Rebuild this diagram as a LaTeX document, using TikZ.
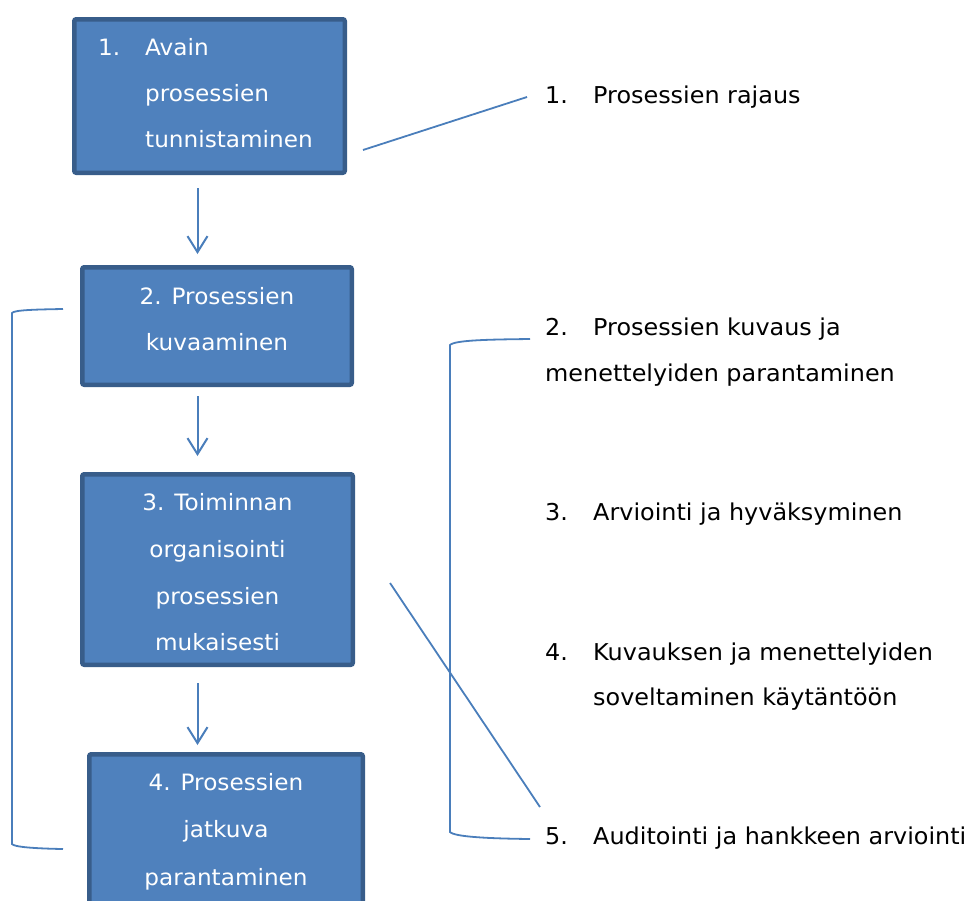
\documentclass[tikz,border=0pt]{standalone}
\usepackage{fontspec}
\setmainfont{DejaVu Sans}[FakeStretch=1.03]
\usetikzlibrary{arrows.meta}
\definecolor{boxfill}{HTML}{4F81BD}
\definecolor{boxline}{HTML}{385D8A}
\definecolor{conn}{HTML}{4A7EBB}
\begin{document}
\begin{tikzpicture}[x=1pt,y=-1pt,
 procbox/.style={draw=boxline, fill=boxfill, line width=4.5pt, rounded corners=2pt, inner sep=0pt, outer sep=0pt},
 boxtext/.style={text=white, font=\fontsize{22.5}{25}\selectfont, inner sep=0pt, anchor=base},
 boxtextl/.style={boxtext, anchor=base west},
 sidetext/.style={text=black, font=\fontsize{23.2}{25}\selectfont, inner sep=0pt, anchor=base west},
 flow/.style={draw=conn, line width=2pt, -{Straight Barb[length=16pt,width=20pt]}},
 link/.style={draw=conn, line width=1.8pt},
]
\useasboundingbox (0,0) rectangle (973,900);
\clip (0,0) rectangle (973,900);
% process boxes
\node[procbox, minimum width=270.5pt, minimum height=153.5pt] (b1) at (209.5,96) {};
\node[procbox, minimum width=269.5pt, minimum height=117.5pt] (b2) at (217,326) {};
\node[procbox, minimum width=270.5pt, minimum height=190.5pt] (b3) at (217.5,569.5) {};
\node[procbox, minimum width=273.5pt, minimum height=195.5pt] (b4) at (226,852) {};
% box texts
\node[boxtextl] (b1n) at (98,55) {1.};
\node[boxtextl] (b1t1) at (145,55) {Avain};
\node[boxtextl] (b1t2) at (145,101) {prosessien};
\node[boxtextl] (b1t3) at (145,147) {tunnistaminen};
\node[boxtext] (b2t1) at (217,304) {2. Prosessien};
\node[boxtext] (b2t2) at (217,350) {kuvaaminen};
\node[boxtext] (b3t1) at (217.5,510) {3. Toiminnan};
\node[boxtext] (b3t2) at (217.5,557) {organisointi};
\node[boxtext] (b3t3) at (217.5,604) {prosessien};
\node[boxtext] (b3t4) at (217.5,650) {mukaisesti};
\node[boxtext] (b4t1) at (226,790) {4. Prosessien};
\node[boxtext] (b4t2) at (226,837) {jatkuva};
\node[boxtext] (b4t3) at (226,885) {parantaminen};
% flow arrows
\coordinate (ax) at (197.5,0);
\draw[flow, shorten <=15.25pt, shorten >=13.25pt] (b1.south -| ax) -- (b2.north -| ax);
\draw[flow, shorten <=11.25pt, shorten >=18.25pt] (b2.south -| ax) -- (b3.north -| ax);
\draw[flow, shorten <=18.25pt, shorten >=9.25pt] (b3.south -| ax) -- (b4.north -| ax);
% side texts
\node[sidetext] (n1) at (545,103) {1.};
\node[sidetext] (s1) at (593,103) {Prosessien rajaus};
\node[sidetext] (n2) at (545,335) {2.};
\node[sidetext] (s2) at (593,335) {Prosessien kuvaus ja};
\node[sidetext] (s2b) at (545,381) {menettelyiden parantaminen};
\node[sidetext] (n3) at (545,520) {3.};
\node[sidetext] (s3) at (593,520) {Arviointi ja hyväksyminen};
\node[sidetext] (n4) at (545,660) {4.};
\node[sidetext] (s4) at (593,660) {Kuvauksen ja menettelyiden};
\node[sidetext] (s4b) at (593,705) {soveltaminen käytäntöön};
\node[sidetext] (n5) at (545,844) {5.};
\node[sidetext] (s5) at (593,844) {Auditointi ja hankkeen arviointi};
% connector lines
\coordinate (l1a) at (363,150);
\coordinate (l1b) at (527,97);
\draw[link] (l1a) -- (l1b);
\coordinate (l2a) at (390,583);
\coordinate (l2b) at (540,807);
\draw[link] (l2a) -- (l2b);
% brackets
\coordinate (rbt) at (530,339);
\coordinate (rbb) at (530,839);
\draw[link] (rbt) .. controls (490,339.5) and (455,340) .. (450,345) -- (450,832) .. controls (455,837) and (490,838.5) .. (rbb);
\coordinate (lbt) at (63,309);
\coordinate (lbb) at (63,849);
\draw[link] (lbt) .. controls (35,309.5) and (14,310) .. (12,313) -- (12,844) .. controls (14,847) and (35,848.5) .. (lbb);
\end{tikzpicture}
\end{document}
